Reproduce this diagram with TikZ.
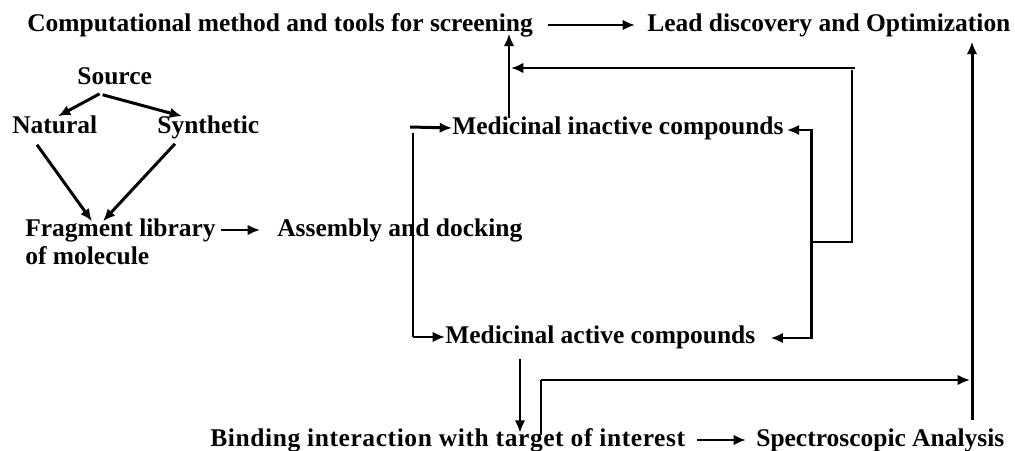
\documentclass[tikz,border=0pt]{standalone}
\usepackage{fontspec}
\setmainfont{Liberation Serif}
\usetikzlibrary{calc}
\usetikzlibrary{arrows.meta}

\begin{document}
\begin{tikzpicture}[x=0.02cm,y=-0.02cm,inner sep=0pt,
  txt/.style={anchor=west,font=\fontsize{14.5}{17}\selectfont\bfseries,text height=10pt,text depth=3pt},
  arr/.style={-{Latex[length=7pt,width=6pt]},line width=1.7pt},
  arrs/.style={{Latex[length=7pt,width=6pt]}-{Latex[length=7pt,width=6pt]},line width=1.7pt},
  ln/.style={line width=0.8pt}]
\useasboundingbox (0,0) rectangle (1015,450);

\node[txt] (comp) at (27,25) {Computational method and tools for screening};
\node[txt] (lead) at (647,25) {Lead discovery and Optimization};
\node[txt] (src) at (77,78) {Source};
\node[txt] (nat) at (12,127) {Natural};
\node[txt] (syn) at (157,127) {Synthetic};
\node[txt] (frag) at (25,230) {Fragment library};
\node[txt] (mol) at (25,258) {of molecule};
\node[txt] (asm) at (277,230) {Assembly and docking};
\node[txt] (inact) at (452,128) {Medicinal inactive compounds};
\node[txt] (act) at (445,337) {Medicinal active compounds};
\node[txt] (bind) at (210,440) {\addfontfeature{LetterSpace=2.3}Binding interaction with target of interest};
\node[txt] (spec) at (756,440) {Spectroscopic Analysis};

% corners of the loops
\coordinate (l0) at (410,127);
\coordinate (l1) at (413,133);
\coordinate (l2) at (413,337);
\coordinate (r1) at (811,130);
\coordinate (r2) at (811,338);
\coordinate (b1) at (811,242);
\coordinate (b2) at (852,242);
\coordinate (b3) at (852,70);
\coordinate (b4) at (855,68);
\coordinate (u1) at (509,118);
\coordinate (u2) at (511,68);
\coordinate (s1) at (541,435);
\coordinate (s2) at (541,380);
\coordinate (s3) at (970,380);
\coordinate (a1) at (972,420);

% source tree
\draw[arr] ($(src.south)+(-15,4)$) -- ($(nat.north west)+(46,1)$);
\draw[arr] ($(src.south)+(-12,5)$) -- ($(syn.north west)+(25,1)$);
\draw[arr] ($(nat.south west)+(25,6)$) -- ($(frag.north west)+(67,3)$);
\draw[arr] ($(syn.south west)+(18,5)$) -- ($(frag.north west)+(78,3)$);
\draw[arr] ($(frag.east)+(5,0)$) -- ($(asm.west)+(-17,0)$);
\draw[arr] ($(comp.east)+(15,0)$) -- ($(lead.west)+(-12,0)$);

% left and right brackets
\draw[arr] (l0) -- (inact.west);
\draw[ln] (l1) -- (l2);
\draw[arr] (l2) -- (act.west);
\draw[arrs] ($(inact.east)+(3,2)$) -- (r1) -- (r2) -- ($(act.east)+(15,1)$);
\draw[ln] (b1) -- (b2) -- (b3);
\draw[arr] (b4) -- (u2);
\draw[arr] (u1) -- ($(u1 |- comp.south)+(0,-3)$);

% lower part
\draw[arr] ($(act.south west)+(75,10)$) -- ++(0,74);
\draw[ln] (s1) -- (s2);
\draw[arr] (s2) -- (s3);
\draw[arr] (a1) -- ($(a1 |- lead.south)+(0,5)$);
\draw[arr] ($(bind.east)+(12,0)$) -- ($(spec.west)+(-10,0)$);
\end{tikzpicture}
\end{document}
